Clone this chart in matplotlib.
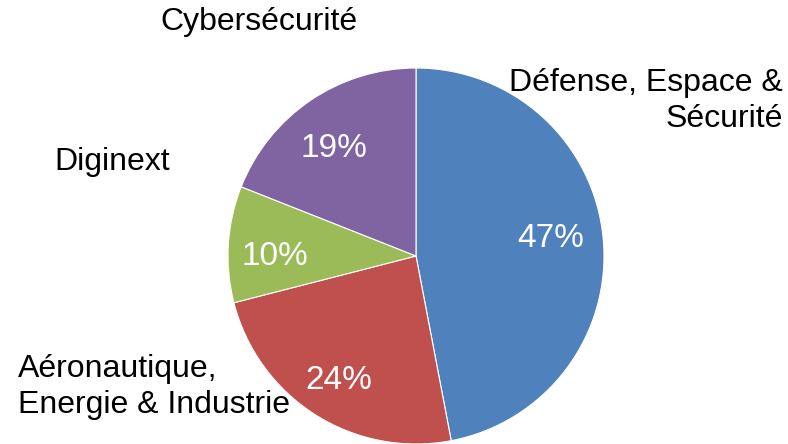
import matplotlib.pyplot as plt

plt.rcParams['font.family'] = ['Liberation Sans', 'DejaVu Sans']

# données
categories = ['Défense, Espace &\nSécurité', 'Aéronautique,\nEnergie & Industrie',
              'Diginext', 'Cybersécurité']
shares = [47, 24, 10, 19]
colors = ['#4F81BD', '#C0504D', '#9BBB59', '#8064A2']

# position des étiquettes (coordonnées figure, pixels) et alignement
label_pos = [(783, 101, 'right'), (18, 387, 'left'), (112, 162, 'center'), (259, 22, 'center')]
# petit décalage des pourcentages (unités du rayon), comme le placement d'Excel
pct_shift = [(-0.02, 0.06), (-0.015, 0.0), (-0.01, -0.01), (-0.02, 0.0)]

W, H = 788, 444
fig = plt.figure(figsize=(W / 100, H / 100), dpi=100)
cx, cy, r = 416, 256, 188
ax = fig.add_axes([(cx - r) / W, (H - cy - r) / H, 2 * r / W, 2 * r / H])

wedges, texts, autotexts = ax.pie(
    shares, colors=colors, startangle=90, counterclock=False,
    autopct='%1.0f%%', pctdistance=0.74,
    wedgeprops={'edgecolor': 'white', 'linewidth': 0.8},
    textprops={'color': 'white', 'fontsize': 24})
for t, (dx, dy) in zip(autotexts, pct_shift):
    t.set_va('center_baseline')
    x, y = t.get_position()
    t.set_position((x + dx, y - 0.02 + dy))
ax.set_xlim(-1, 1)
ax.set_ylim(-1, 1)
ax.set_aspect('equal')

for lab, (px, py, ha) in zip(categories, label_pos):
    fig.text(px / W, 1 - py / H, lab, ha=ha, va='center', fontsize=23,
             color='black', linespacing=1.3)

plt.savefig('out.png', dpi=100)
